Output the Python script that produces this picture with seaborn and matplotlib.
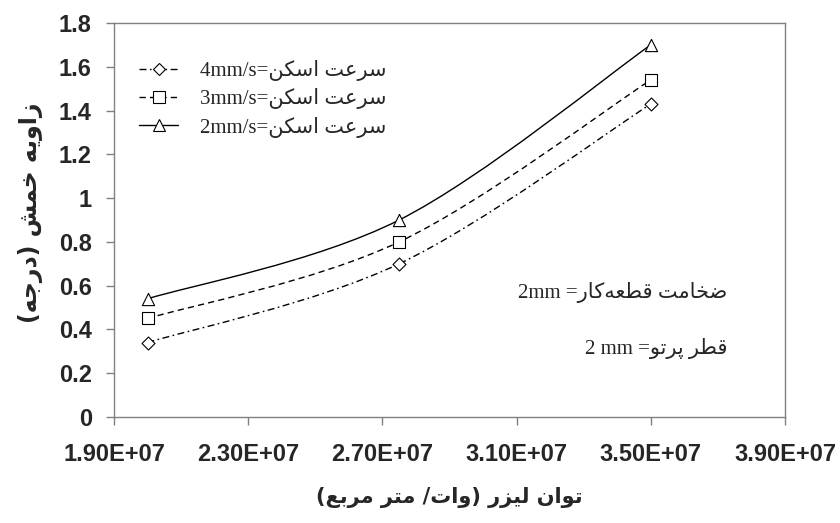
import numpy as np
import matplotlib
matplotlib.use("Agg")
import matplotlib.pyplot as plt
from matplotlib.path import Path
from matplotlib.patches import PathPatch
from matplotlib.lines import Line2D
import seaborn as sns

# ---------------- data ----------------
laser_power = [2.0e7, 2.75e7, 3.5e7]          # W/m^2
angle_4mm = [0.34, 0.70, 1.43]                # bending angle, scan speed 4 mm/s
angle_3mm = [0.45, 0.80, 1.54]                # scan speed 3 mm/s
angle_2mm = [0.54, 0.90, 1.70]                # scan speed 2 mm/s

speed_labels = ["4mm/s", "3mm/s", "2mm/s"]
x_ticks = [1.9e7, 2.3e7, 2.7e7, 3.1e7, 3.5e7, 3.9e7]
x_tick_labels = ["1.90E+07", "2.30E+07", "2.70E+07", "3.10E+07", "3.50E+07", "3.90E+07"]
y_ticks = [0, 0.2, 0.4, 0.6, 0.8, 1.0, 1.2, 1.4, 1.6, 1.8]
y_tick_labels = ["0", "0.2", "0.4", "0.6", "0.8", "1", "1.2", "1.4", "1.6", "1.8"]

scan_speed_text = "سرعت اسکن"
thickness_text = "ضخامت قطعه\u200cکار"
beam_text = "قطر پرتو"
x_title = "توان لیزر (وات/ متر مربع)"
y_title = "زاویه خمش (درجه)"

# ---------------- Persian shaping (matplotlib has no text shaping) ----------------
FORMS = {
    'ا': ('\uFE8D', '\uFE8E', None, None),
    'ب': ('\uFE8F', '\uFE90', '\uFE91', '\uFE92'),
    'پ': ('\uFB56', '\uFB57', '\uFB58', '\uFB59'),
    'ت': ('\uFE95', '\uFE96', '\uFE97', '\uFE98'),
    'ج': ('\uFE9D', '\uFE9E', '\uFE9F', '\uFEA0'),
    'خ': ('\uFEA5', '\uFEA6', '\uFEA7', '\uFEA8'),
    'د': ('\uFEA9', '\uFEAA', None, None),
    'ر': ('\uFEAD', '\uFEAE', None, None),
    'ز': ('\uFEAF', '\uFEB0', None, None),
    'س': ('\uFEB1', '\uFEB2', '\uFEB3', '\uFEB4'),
    'ش': ('\uFEB5', '\uFEB6', '\uFEB7', '\uFEB8'),
    'ض': ('\uFEBD', '\uFEBE', '\uFEBF', '\uFEC0'),
    'ط': ('\uFEC1', '\uFEC2', '\uFEC3', '\uFEC4'),
    'ع': ('\uFEC9', '\uFECA', '\uFECB', '\uFECC'),
    'ق': ('\uFED5', '\uFED6', '\uFED7', '\uFED8'),
    'ک': ('\uFB8E', '\uFB8F', '\uFB90', '\uFB91'),
    'ل': ('\uFEDD', '\uFEDE', '\uFEDF', '\uFEE0'),
    'م': ('\uFEE1', '\uFEE2', '\uFEE3', '\uFEE4'),
    'ن': ('\uFEE5', '\uFEE6', '\uFEE7', '\uFEE8'),
    'ه': ('\uFEE9', '\uFEEA', '\uFEEB', '\uFEEC'),
    'و': ('\uFEED', '\uFEEE', None, None),
    'ی': ('\uFBFC', '\uFBFD', '\uFBFE', '\uFBFF'),
}
MIRROR = {'(': ')', ')': '('}


def rtl(text):
    """Shape Persian letters into contextual forms and lay them out right-to-left."""
    out = []
    n = len(text)
    for i, ch in enumerate(text):
        if ch not in FORMS:
            if ch != '\u200c':
                out.append(MIRROR.get(ch, ch))
            continue
        prev = text[i - 1] if i > 0 else ''
        nxt = text[i + 1] if i + 1 < n else ''
        join_prev = prev in FORMS and FORMS[prev][2] is not None
        join_next = nxt in FORMS and FORMS[ch][2] is not None
        iso, fin, ini, med = FORMS[ch]
        if join_prev and join_next:
            out.append(med)
        elif join_prev:
            out.append(fin)
        elif join_next:
            out.append(ini)
        else:
            out.append(iso)
    return ''.join(reversed(out))


def smooth_path(xs, ys):
    """Cubic Bezier curve passing through every point (Catmull-Rom style)."""
    pts = np.column_stack([xs, ys]).astype(float)
    n = len(pts)
    verts = [pts[0]]
    codes = [Path.MOVETO]
    for i in range(n - 1):
        p0 = pts[max(i - 1, 0)]
        p1 = pts[i]
        p2 = pts[i + 1]
        p3 = pts[min(i + 2, n - 1)]
        verts += [p1 + (p2 - p0) / 6.0, p2 - (p3 - p1) / 6.0, p2]
        codes += [Path.CURVE4] * 3
    return Path(verts, codes)


# ---------------- figure ----------------
sns.set_style("white")
plt.rcParams["font.family"] = ["Liberation Sans", "DejaVu Sans"]

fig = plt.figure(figsize=(8.4, 5.23), dpi=100)
fig.subplots_adjust(left=0.1357, right=0.9345, top=0.956, bottom=0.2027)
ax = fig.add_subplot(111)

series = [
    (angle_4mm, "D", 6.6, (0, (5, 2.5, 1.2, 2.5))),
    (angle_3mm, "s", 8.6, (0, (4.5, 3))),
    (angle_2mm, "^", 8.8, "solid"),
]

handles = []
for (vals, marker, msize, ls), lab in zip(series, speed_labels):
    patch = PathPatch(smooth_path(laser_power, vals), facecolor="none",
                      edgecolor="black", lw=1.0, linestyle=ls, zorder=2)
    ax.add_patch(patch)
    sns.scatterplot(x=laser_power, y=vals, marker=marker, s=msize ** 2,
                    facecolor="white", edgecolor="black", linewidth=0.8,
                    ax=ax, zorder=3)
    handles.append(Line2D([], [], color="black", lw=1.0, linestyle=ls,
                          marker=marker, markersize=msize, markerfacecolor="white",
                          markeredgecolor="black", markeredgewidth=0.8,
                          label=lab + "=" + rtl(scan_speed_text)))

ax.set_xlim(1.9e7, 3.9e7)
ax.set_ylim(0, 1.8)
ax.set_xticks(x_ticks)
ax.set_xticklabels(x_tick_labels)
ax.set_yticks(y_ticks)
ax.set_yticklabels(y_tick_labels)

for lab in ax.get_xticklabels() + ax.get_yticklabels():
    lab.set_fontfamily(["Liberation Sans", "DejaVu Sans"])
    lab.set_fontweight("bold")
    lab.set_fontsize(17)

ax.tick_params(axis="both", which="major", direction="out", length=6,
               width=1.0, color="#808080", left=True, bottom=True)
ax.tick_params(axis="y", pad=10)
ax.tick_params(axis="x", pad=13)

for sp in ax.spines.values():
    sp.set_visible(True)
    sp.set_color("#808080")
    sp.set_linewidth(1.0)

ax.set_xlabel(rtl(x_title), fontsize=15, fontweight="bold", family=["DejaVu Sans"])
ax.set_ylabel(rtl(y_title), fontsize=17, fontweight="bold", family=["DejaVu Sans"])
ax.xaxis.set_label_coords(0.5, -0.205)
ax.xaxis.label.set_va("center")
ax.yaxis.set_label_coords(-0.125, 0.518)
ax.yaxis.label.set_va("center")
ax.yaxis.label.set_ha("center")

leg = ax.legend(handles=handles, loc="upper left", bbox_to_anchor=(0.038, 0.906),
                frameon=False, borderpad=0, borderaxespad=0,
                handlelength=1.85, handletextpad=1.05, labelspacing=0.35,
                prop={"family": ["Liberation Serif", "DejaVu Sans"], "size": 15})

ax.text(0.9136, 0.317, "2mm =" + rtl(thickness_text), transform=ax.transAxes,
        ha="right", va="center", fontsize=15, family=["Liberation Serif", "DejaVu Sans"])
ax.text(0.9136, 0.175, "2 mm =" + rtl(beam_text), transform=ax.transAxes,
        ha="right", va="center", fontsize=15, family=["Liberation Serif", "DejaVu Sans"])

fig.savefig("out.png", dpi=100)
